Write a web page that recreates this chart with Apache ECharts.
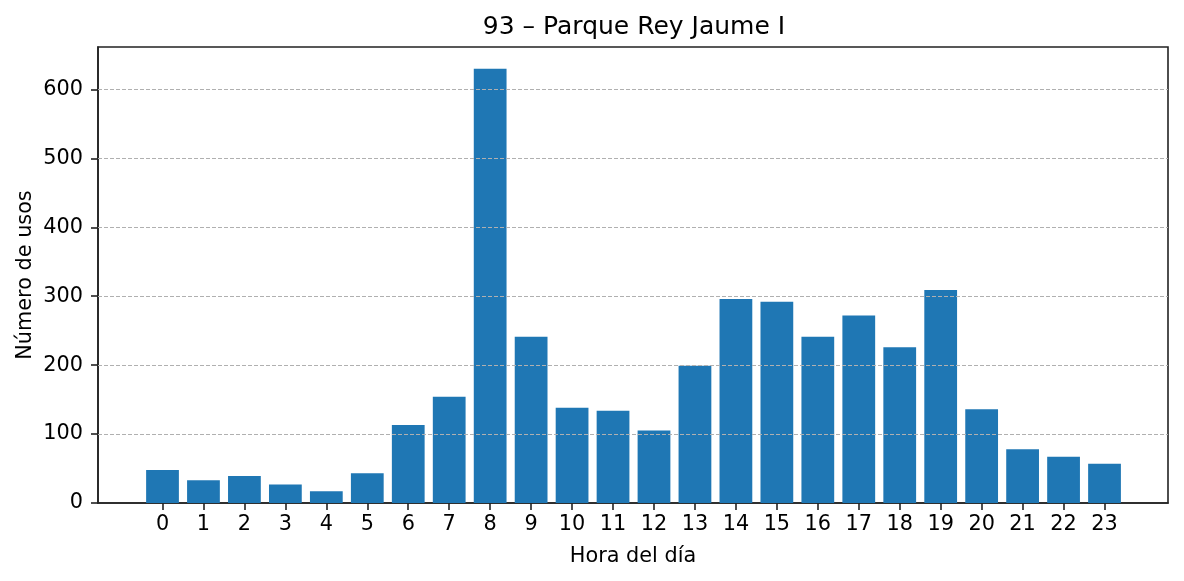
<!DOCTYPE html>
<html>
<head>
<meta charset="utf-8">
<script src="https://cdn.jsdelivr.net/npm/echarts@6/dist/echarts.min.js"></script>
<style>
html,body{margin:0;padding:0;background:#fff;}
#chart{width:1184px;height:581px;}
</style>
</head>
<body>
<div id="chart"></div>
<script>
const titleText = "93 \u2013 Parque Rey Jaume I";
const xName = "Hora del día";
const yName = "Número de usos";
const hours = [0,1,2,3,4,5,6,7,8,9,10,11,12,13,14,15,16,17,18,19,20,21,22,23];
const usos = [48,33,39,27,17,43,113,154,630,241,138,134,105,199,296,292,241,272,226,309,136,78,67,57];
const yTicks = [0,100,200,300,400,500,600];

const FONT = "DejaVu Sans";
const chart = echarts.init(document.getElementById('chart'), null, {renderer:'canvas'});
const gridLeft = 98, gridRight = 16;
const xMin = -1.575, xMax = 24.55;
const pxPerUnit = (1184 - gridLeft - gridRight) / (xMax - xMin);

chart.setOption({
  animation: false,
  backgroundColor: '#ffffff',
  title: {
    text: titleText,
    left: (gridLeft + 1184 - gridRight) / 2 - 4,
    textAlign: 'center',
    top: 10,
    textStyle: {fontFamily: FONT, fontSize: 25, fontWeight: 'normal', color: '#000'}
  },
  grid: {
    left: gridLeft, right: gridRight, top: 47, bottom: 78,
    show: true, borderColor: '#222', borderWidth: 1.6, backgroundColor: 'transparent'
  },
  xAxis: {
    type: 'value',
    min: xMin, max: xMax,
    name: xName,
    nameLocation: 'middle',
    nameGap: 43,
    nameMoveOverlap: false,
    nameTextStyle: {fontFamily: FONT, fontSize: 20.8, color: '#000'},
    axisLine: {show: true, onZero: false, lineStyle: {color: '#222', width: 1.6}},
    axisTick: {show: true, customValues: hours, length: 7, lineStyle: {color: '#222', width: 1.6}},
    axisLabel: {customValues: hours, margin: 11, fontFamily: FONT, fontSize: 20.8, color: '#000'},
    splitLine: {show: false}
  },
  yAxis: {
    type: 'value',
    min: 0, max: 661.5,
    name: yName,
    nameLocation: 'middle',
    nameGap: 62,
    nameMoveOverlap: false,
    nameTextStyle: {fontFamily: FONT, fontSize: 20.8, color: '#000'},
    axisLine: {show: true, onZero: false, lineStyle: {color: '#222', width: 1.6}},
    axisTick: {show: true, customValues: yTicks, length: 7, lineStyle: {color: '#222', width: 1.6}},
    axisLabel: {customValues: yTicks, margin: 15, fontFamily: FONT, fontSize: 20.8, color: '#000'},
    splitLine: {show: false}
  },
  series: [{
    type: 'bar',
    data: hours.map((h, i) => [h, usos[i]]),
    barWidth: 0.8 * pxPerUnit,
    itemStyle: {color: '#1f77b4'},
    markLine: {
      silent: true,
      symbol: 'none',
      label: {show: false},
      lineStyle: {color: '#b0b0b0', type: [4, 2], width: 1},
      data: yTicks.filter(v => v > 0).map(v => ({yAxis: v}))
    }
  }]
});
</script>
</body>
</html>
